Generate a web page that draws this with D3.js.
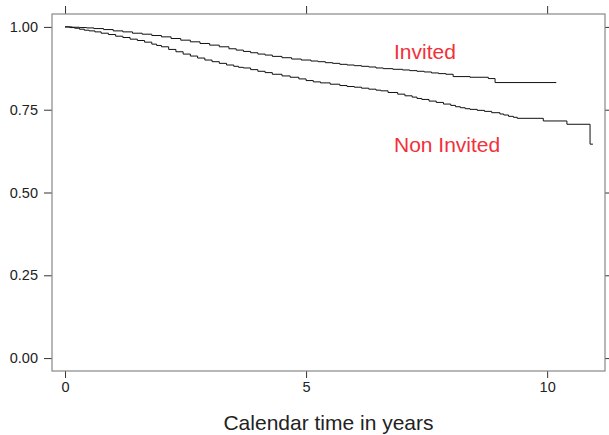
<!DOCTYPE html>
<html><head><meta charset="utf-8">
<script src="https://cdn.jsdelivr.net/npm/d3@7"></script>
<style>body{margin:0;background:#fff}svg{display:block}text{font-family:"Liberation Sans",Arial,sans-serif}</style>
</head><body>
<script>
const xTicks = [0, 5, 10];
const yTicks = [0, 0.25, 0.5, 0.75, 1.0];
const yTickLabels = ["0.00", "0.25", "0.50", "0.75", "1.00"];
const invitedTime = [0,0.15,0.3,0.45,0.6,0.8,1.0,1.2,1.4,1.6,1.8,2.0,2.2,2.4,2.6,2.8,3.0,3.2,3.4,3.55,3.7,3.85,4.0,4.15,4.3,4.5,4.7,4.9,5.1,5.25,5.4,5.55,5.7,5.85,6.0,6.15,6.3,6.45,6.6,6.8,7.0,7.15,7.3,7.45,7.6,7.75,7.9,8.05,8.4,8.78,8.92,10.19];
const invitedSurv = [1.0,0.999,0.998,0.997,0.995,0.992,0.988,0.985,0.981,0.978,0.974,0.970,0.965,0.960,0.955,0.950,0.945,0.940,0.934,0.930,0.926,0.922,0.918,0.915,0.911,0.907,0.903,0.900,0.897,0.895,0.892,0.890,0.887,0.885,0.883,0.881,0.879,0.876,0.874,0.872,0.870,0.868,0.866,0.864,0.861,0.859,0.857,0.850,0.848,0.844,0.832,0.832];
const nonTime = [0,0.1,0.2,0.3,0.4,0.5,0.62,0.75,0.9,1.05,1.2,1.35,1.5,1.65,1.8,1.9,2.0,2.15,2.3,2.45,2.6,2.75,2.9,3.05,3.2,3.35,3.5,3.6,3.7,3.85,4.0,4.15,4.3,4.5,4.67,4.85,5.0,5.15,5.3,5.5,5.7,5.85,6.0,6.15,6.3,6.45,6.55,6.7,6.9,7.05,7.2,7.3,7.4,7.55,7.7,7.85,8.0,8.1,8.2,8.3,8.4,8.55,8.7,8.85,9.02,9.1,9.2,9.3,9.38,9.92,10.41,10.89,10.95];
const nonSurv = [1.0,0.998,0.996,0.993,0.990,0.988,0.985,0.981,0.977,0.972,0.968,0.963,0.959,0.954,0.948,0.944,0.940,0.932,0.925,0.918,0.912,0.906,0.900,0.895,0.890,0.885,0.881,0.878,0.876,0.871,0.866,0.862,0.857,0.852,0.848,0.843,0.838,0.834,0.831,0.827,0.823,0.820,0.818,0.815,0.812,0.809,0.807,0.802,0.797,0.792,0.788,0.784,0.781,0.776,0.772,0.767,0.763,0.759,0.756,0.753,0.751,0.748,0.745,0.741,0.737,0.734,0.730,0.727,0.724,0.716,0.706,0.646,0.646];
const groupLabels = ["Invited", "Non Invited"];

const W = 609, H = 435;
const L = 52, R = 605, T = 14, B = 371;
const svg = d3.select("body").append("svg").attr("width", W).attr("height", H);
const x = d3.scaleLinear().domain([-0.27, 11.2]).range([L, R]);
const y = d3.scaleLinear().domain([-0.039, 1.039]).range([B, T]);

const tickCol = "#333", frameCol = "#888";
const gl = svg.append("g").attr("transform", `translate(${L},0)`)
  .call(d3.axisLeft(y).tickValues(yTicks).tickFormat((d,i)=>yTickLabels[i]).tickSize(8).tickPadding(6));
const gr = svg.append("g").attr("transform", `translate(${R},0)`)
  .call(d3.axisRight(y).tickValues(yTicks).tickFormat("").tickSize(6));
const gb = svg.append("g").attr("transform", `translate(0,${B})`)
  .call(d3.axisBottom(x).tickValues(xTicks).tickFormat(d3.format("d")).tickSize(7).tickPadding(4));
const gt = svg.append("g").attr("transform", `translate(0,${T})`)
  .call(d3.axisTop(x).tickValues(xTicks).tickFormat("").tickSize(8));
[gl,gr,gb,gt].forEach(g=>{
  g.select(".domain").remove();
  g.selectAll(".tick line").attr("stroke", tickCol).attr("stroke-width",1);
  g.selectAll(".tick text").attr("fill","#222").style("font-size","14.5px").style("font-family",'"Liberation Sans",Arial,sans-serif');
});
svg.append("rect").attr("x",L).attr("y",T).attr("width",R-L).attr("height",B-T)
  .attr("fill","none").attr("stroke",frameCol).attr("stroke-width",1.2);

const line = d3.line().x(d=>x(d[0])).y(d=>y(d[1])).curve(d3.curveStepAfter);
const inv = invitedTime.map((t,i)=>[t,invitedSurv[i]]);
const non = nonTime.map((t,i)=>[t,nonSurv[i]]);
[inv, non].forEach(d=>svg.append("path").datum(d).attr("d",line)
  .attr("fill","none").attr("stroke","#111").attr("stroke-width",1));

svg.append("text").attr("x",394).attr("y",59).attr("fill","#F2303A").style("font-size","21px").text(groupLabels[0]);
svg.append("text").attr("x",394).attr("y",152).attr("fill","#F2303A").style("font-size","21px").text(groupLabels[1]);

svg.append("text").attr("x",(L+R)/2).attr("y",430).attr("text-anchor","middle").attr("fill","#222")
  .style("font-size","21px").text("Calendar time in years");
</script>
</body></html>
